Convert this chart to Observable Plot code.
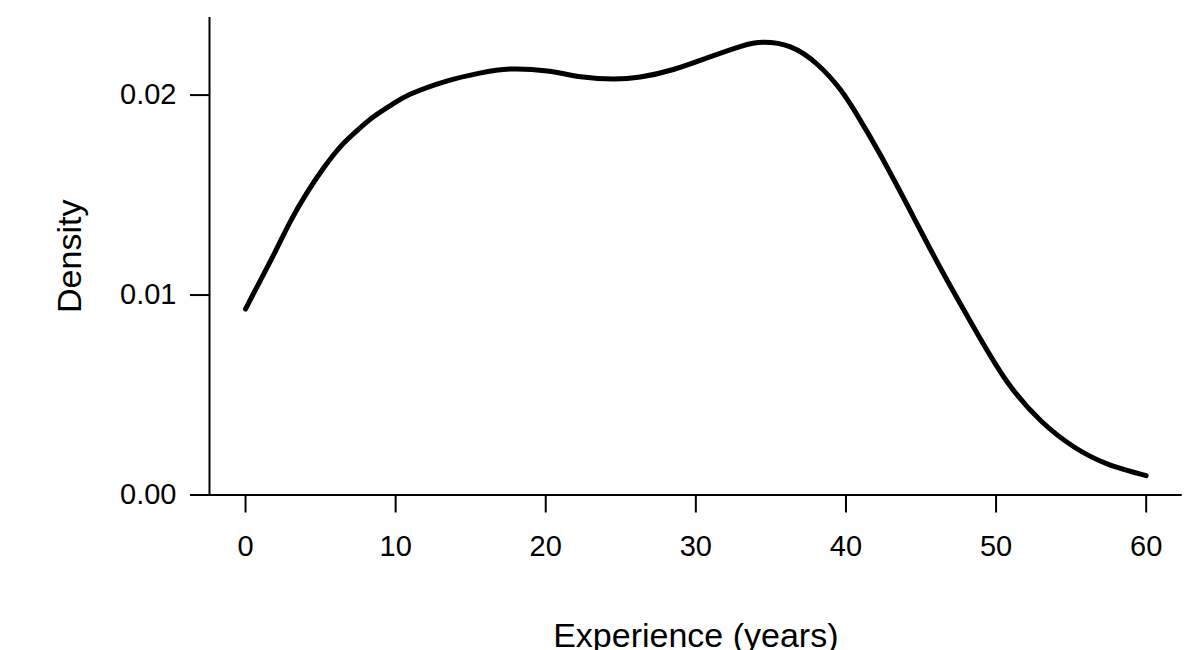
<!DOCTYPE html>
<html>
<head>
<meta charset="utf-8">
<script src="https://cdn.jsdelivr.net/npm/d3@7"></script>
<script src="https://cdn.jsdelivr.net/npm/@observablehq/plot@0.6"></script>
<style>
  html, body { margin: 0; padding: 0; background: #fff; }
</style>
</head>
<body>
<div id="chart"></div>
<script>
// Experience (years) at which the density curve was read
const experience = [0, 1.0, 2.0, 3.0, 4.1, 5.2, 6.3, 7.4, 8.5, 9.7, 11.0, 13.4, 15.6, 17.6, 20.1, 22.5, 24.5, 26.3, 28.5, 30.75, 33.0, 34.5, 36.3, 38.1, 39.6, 40.75, 42.3, 44.5, 46.4, 48.5, 50.7, 53.0, 55.2, 57.4, 60.0];
// Kernel density estimates
const density = [0.0093, 0.01075, 0.0122, 0.0137, 0.01512, 0.01635, 0.0174, 0.0182, 0.0189, 0.0195, 0.02005, 0.0207, 0.0211, 0.0213, 0.0212, 0.0209, 0.0208, 0.0209, 0.02128, 0.02186, 0.02244, 0.02264, 0.02241, 0.02153, 0.0203, 0.0190, 0.0170, 0.0139, 0.0112, 0.0084, 0.0057, 0.0037, 0.0024, 0.00156, 0.00097];
const xTicks = [0, 10, 20, 30, 40, 50, 60];
const yTicks = [0.00, 0.01, 0.02];
const xDomain = [-2.4, 62.4];
const yDomain = [0, 0.02388];

const data = experience.map((x, i) => ({x, y: density[i]}));

const font = "'Liberation Sans', Arial, Helvetica, sans-serif";

const chart = Plot.plot({
  width: 1200,
  height: 650,
  marginLeft: 209,
  marginRight: 18.3,
  marginTop: 17,
  marginBottom: 155.5,
  x: {domain: xDomain},
  y: {domain: yDomain},
  style: {fontFamily: font, color: "black", background: "white", overflow: "hidden"},
  marks: [
    Plot.ruleY([yDomain[0]], {stroke: "black", strokeWidth: 2}),
    Plot.ruleX([xDomain[0]], {stroke: "black", strokeWidth: 2}),
    Plot.axisX({ticks: xTicks, tickSize: 18, tickPadding: 22, fontSize: 29, label: null, strokeWidth: 2, tickFormat: d3.format("d")}),
    Plot.axisY({ticks: yTicks, tickSize: 19, tickPadding: 14, fontSize: 29, label: null, strokeWidth: 2, tickFormat: d3.format(".2f")}),
    Plot.line(data, {x: "x", y: "y", curve: "natural", stroke: "black", strokeWidth: 5, strokeLinecap: "round", strokeLinejoin: "round"}),
    Plot.text(["Density"], {frameAnchor: "left", textAnchor: "middle", dx: -139, rotate: -90, fontSize: 34, fill: "black"}),
    Plot.text(["Experience (years)"], {frameAnchor: "bottom", textAnchor: "middle", lineAnchor: "top", dy: 127.5, fontSize: 34, fill: "black"})
  ]
});

document.getElementById("chart").appendChild(chart);
</script>
</body>
</html>
